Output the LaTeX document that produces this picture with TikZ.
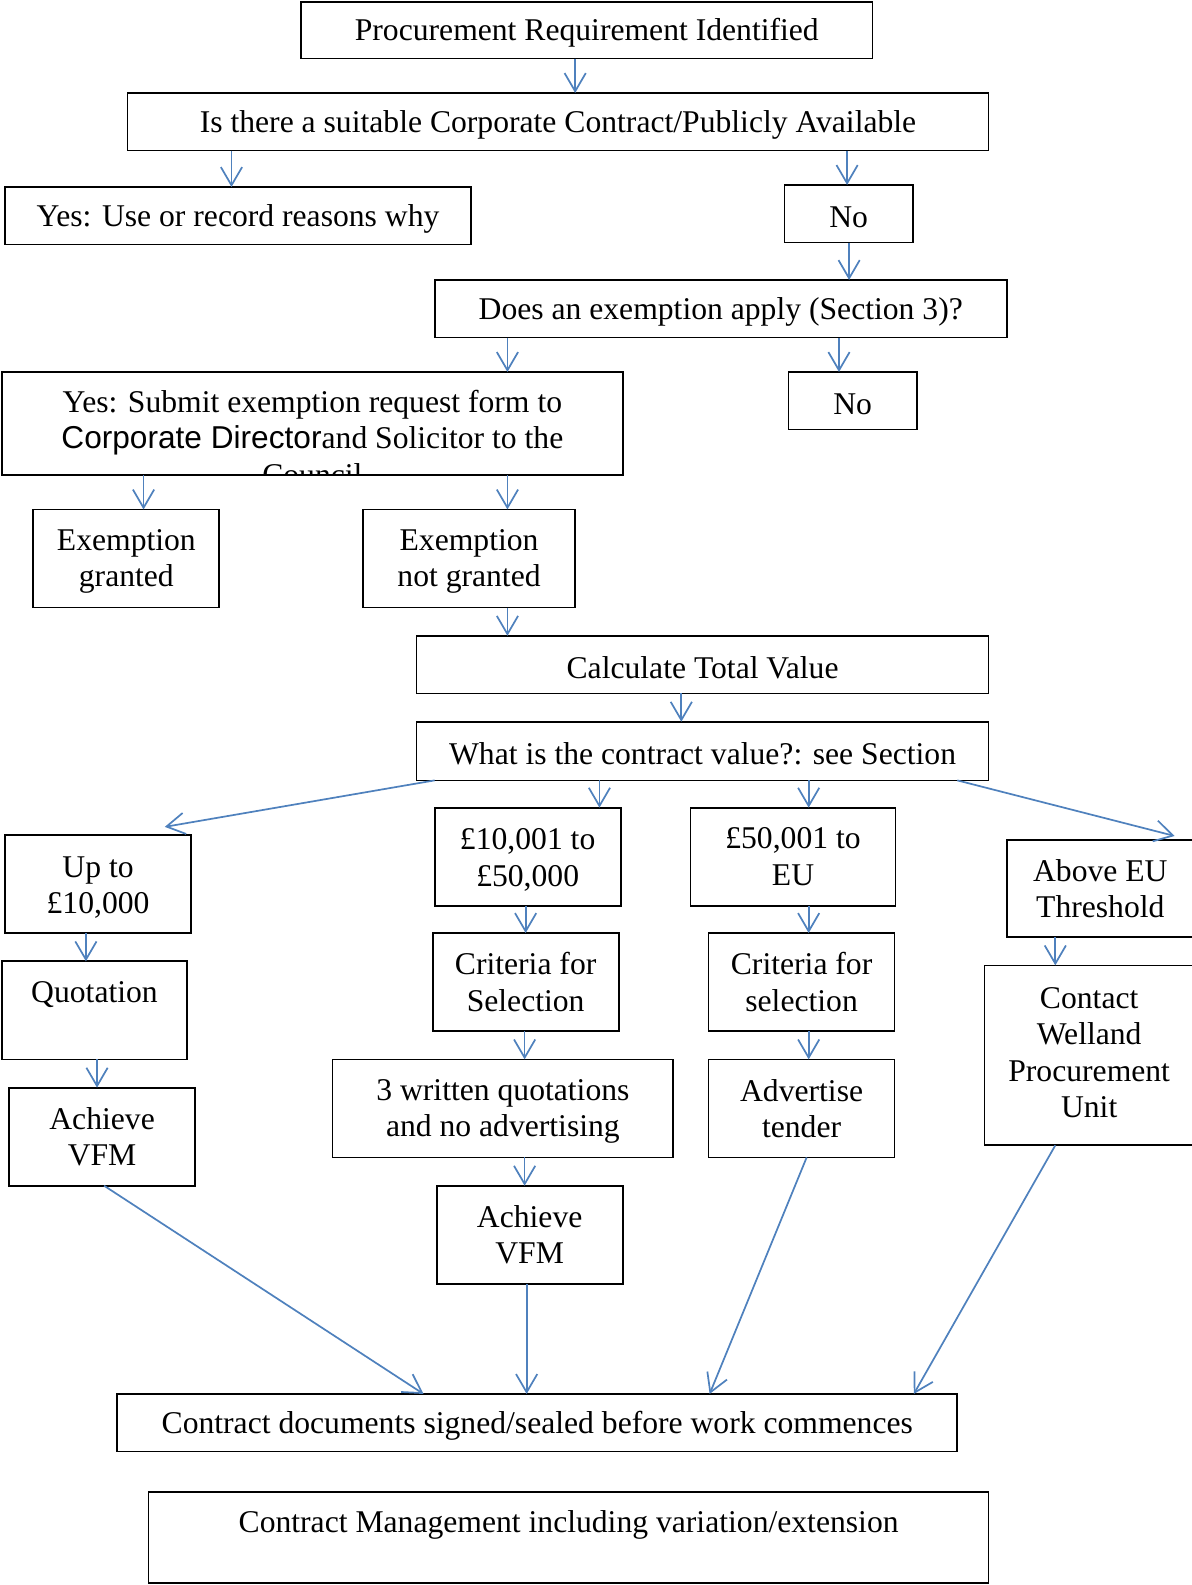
\documentclass[tikz,border=0pt]{standalone}
\usepackage{fontspec}
\setmainfont{Liberation Serif}
\newfontfamily\arialf{Liberation Sans}
\usetikzlibrary{arrows.meta}
\definecolor{arrblue}{RGB}{79,129,189}
\newcommand\topstrut{\rule{0pt}{27pt}}
\begin{document}
\begin{tikzpicture}[x=1pt,y=-1pt,
  box/.style={draw=black, line width=1.7pt, inner sep=0pt, outer sep=0pt, align=center, font=\fontsize{31.3}{36}\selectfont},
  txt/.style={inner sep=0pt, outer sep=0pt, align=center, font=\fontsize{31.3}{36}\selectfont},
  arr/.style={draw=arrblue, line width=1.7pt, -{Straight Barb[length=18pt,width=21pt]}}]
\useasboundingbox (0,0) rectangle (1179,1568);

\node[box, minimum width=565, minimum height=56] (p1) at (580.5,30) {\topstrut Procurement Requirement Identified};
\node[box, minimum width=852, minimum height=57] (p2) at (552,120.5) {\topstrut Is there a suitable Corporate Contract/Publicly Available};
\node[box, minimum width=461, minimum height=57] (yes1) at (235.5,213.5) {\topstrut Yes: Use or record reasons why};
\node[box, minimum width=127, minimum height=57] (no1) at (839.5,211.5) {\topstrut No};
\node[box, minimum width=566, minimum height=57] (exq) at (713,305.5) {\topstrut Does an exemption apply (Section 3)?};
\node[box, minimum width=614, minimum height=102] (yes2) at (309,419) {};
\begin{scope}
\clip (yes2.north west) rectangle (yes2.south east);
\node[txt] (yes2t) at (309,433) {Yes: Submit exemption request form to\\{\arialf Corporate Director}and Solicitor to the\\Council};
\end{scope}
\node[box, minimum width=127, minimum height=57] (no2) at (843.5,396.5) {\topstrut No};
\node[box, minimum width=184, minimum height=97] (eg) at (125,552.5) {\topstrut Exemption\\granted};
\node[box, minimum width=210, minimum height=97] (eng) at (464,552.5) {\topstrut Exemption\\not granted};
\node[box, minimum width=566, minimum height=57] (calc) at (695,657.5) {\topstrut Calculate Total Value};
\node[box, minimum width=566, minimum height=58] (what) at (695,743) {\topstrut What is the contract value?: see Section};
\node[box, minimum width=184, minimum height=97] (upto) at (97,874.5) {\topstrut Up to\\\pounds10,000};
\node[box, minimum width=184, minimum height=97] (b10) at (522,847.5) {\topstrut\pounds10,001 to\\\pounds50,000};
\node[box, minimum width=203, minimum height=97] (b50) at (784.5,847.5) {\pounds50,001 to\\EU};
\node[box, minimum width=185, minimum height=96] (aeu) at (1088.5,879) {Above EU\\Threshold};
\node[box, minimum width=183, minimum height=97] (quot) at (93.5,999.5) {Quotation\\~};
\node[box, minimum width=184, minimum height=97] (vfm1) at (101,1124.5) {Achieve\\VFM};
\node[box, minimum width=184, minimum height=97] (crit1) at (520,971.5) {Criteria for\\Selection};
\node[box, minimum width=337, minimum height=97] (wq) at (497.5,1096.5) {\topstrut 3 written quotations\\and no advertising};
\node[box, minimum width=184, minimum height=97] (vfm2) at (524,1221.5) {Achieve\\VFM};
\node[box, minimum width=184, minimum height=97] (crit2) at (793,971.5) {Criteria for\\selection};
\node[box, minimum width=184, minimum height=97] (adv) at (793,1096.5) {Advertise\\tender};
\node[box, minimum width=207, minimum height=178] (cwpu) at (1077.5,1044) {\topstrut Contact\\Welland\\Procurement\\Unit\rule[-12pt]{0pt}{12pt}};
\node[box, minimum width=831, minimum height=57] (cd) at (531.5,1407.5) {\topstrut Contract documents signed/sealed before work commences};
\node[box, minimum width=831, minimum height=90] (cm) at (562.5,1521) {\topstrut Contract Management including variation/extension\\~};

\coordinate (uptoin) at (163,818);
\coordinate (aeuin) at (1162,827);

\draw[arr] (p1.south -| 569,0) -- (p2.north -| 569,0);
\draw[arr] (p2.south -| 229,0) -- (yes1.north -| 229,0);
\draw[arr] (p2.south -| 838,0) -- (no1.north -| 838,0);
\draw[arr] (no1.south -| 840,0) -- (exq.north -| 840,0);
\draw[arr] (exq.south -| 502,0) -- (yes2.north -| 502,0);
\draw[arr] (exq.south -| 830,0) -- (no2.north -| 830,0);
\draw[arr] (yes2.south -| 142,0) -- (eg.north -| 142,0);
\draw[arr] (yes2.south -| 502,0) -- (eng.north -| 502,0);
\draw[arr] (eng.south -| 502,0) -- (calc.north -| 502,0);
\draw[arr] (calc.south -| 674,0) -- (what.north -| 674,0);
\draw[arr] (what.south -| 430,0) -- (uptoin);
\draw[arr] (what.south -| 593,0) -- (b10.north -| 593,0);
\draw[arr] (what.south -| 800,0) -- (b50.north -| 800,0);
\draw[arr] (what.south -| 947,0) -- (aeuin);
\draw[arr] (upto.south -| 85,0) -- (quot.north -| 85,0);
\draw[arr] (b10.south -| 520,0) -- (crit1.north -| 520,0);
\draw[arr] (b50.south -| 800,0) -- (crit2.north -| 800,0);
\draw[arr] (aeu.south -| 1044,0) -- (cwpu.north -| 1044,0);
\draw[arr] (quot.south -| 96,0) -- (vfm1.north -| 96,0);
\draw[arr] (crit1.south -| 519,0) -- (wq.north -| 519,0);
\draw[arr] (crit2.south -| 800,0) -- (adv.north -| 800,0);
\draw[arr] (wq.south -| 519,0) -- (vfm2.north -| 519,0);
\draw[arr] (vfm1.south -| 103,0) -- (cd.north -| 419,0);
\draw[arr] (vfm2.south -| 521,0) -- (cd.north -| 521,0);
\draw[arr] (adv.south -| 798,0) -- (cd.north -| 702,0);
\draw[arr] (cwpu.south -| 1044,0) -- (cd.north -| 904,0);
\end{tikzpicture}
\end{document}
